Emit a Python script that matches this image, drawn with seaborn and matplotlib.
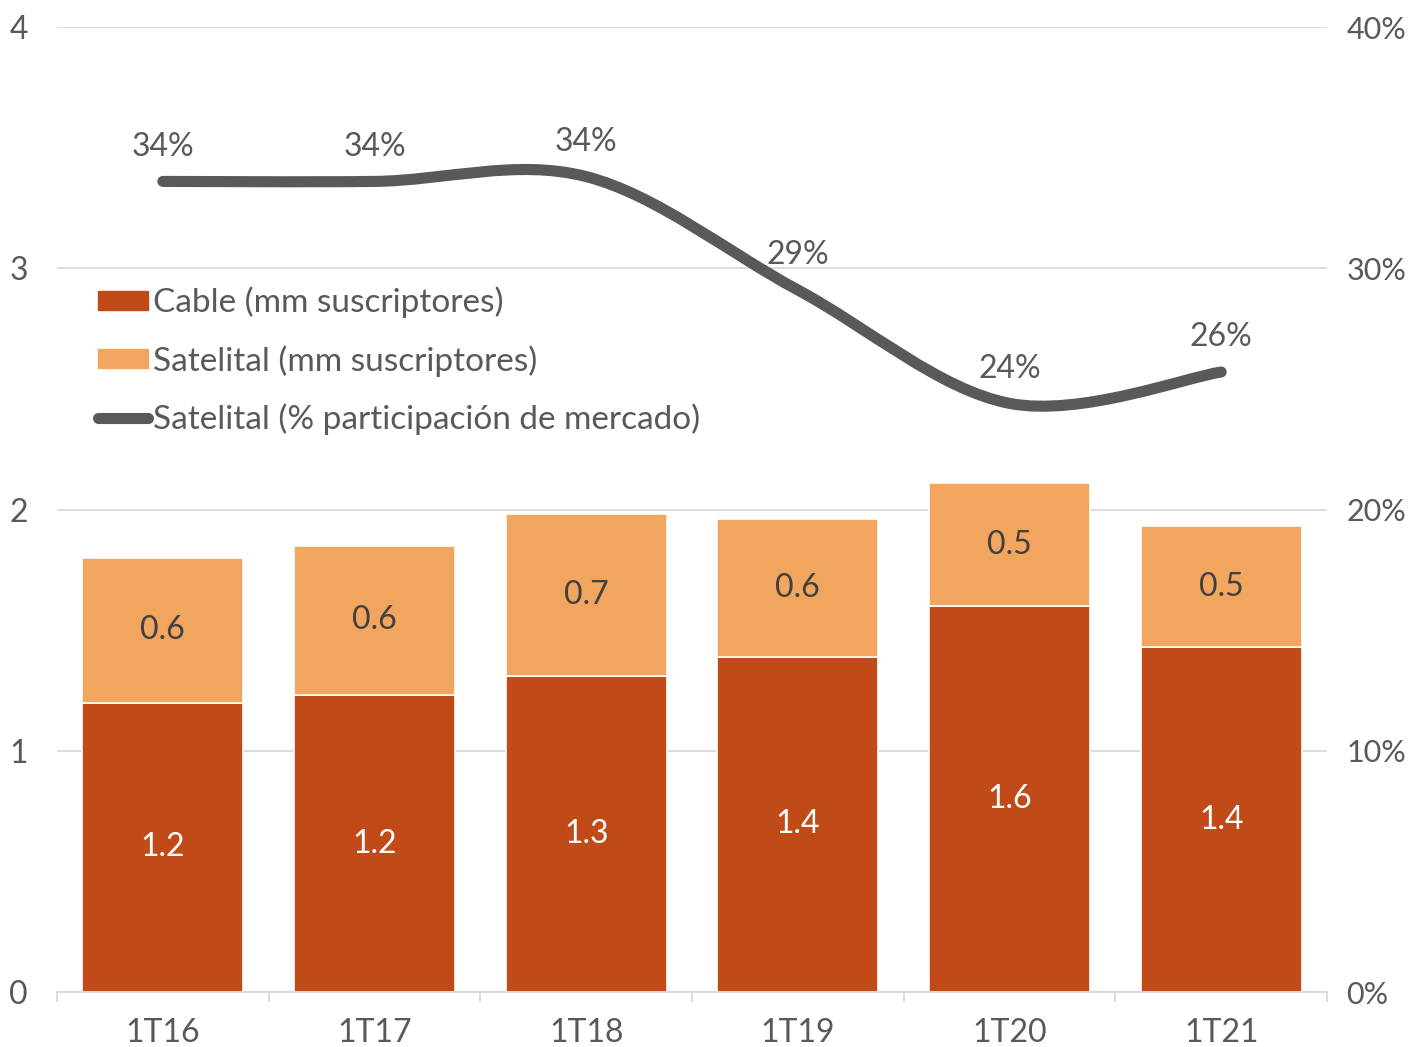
import matplotlib.pyplot as plt
import matplotlib.ticker as mticker
from matplotlib.path import Path
from matplotlib.patches import PathPatch, Patch
from matplotlib.lines import Line2D
import seaborn as sns
import numpy as np

periods = ["1T16", "1T17", "1T18", "1T19", "1T20", "1T21"]
cable = [1.20, 1.23, 1.31, 1.39, 1.60, 1.43]
satelital = [0.60, 0.62, 0.67, 0.57, 0.51, 0.50]
share = [0.336, 0.336, 0.338, 0.291, 0.244, 0.257]

c_cable = "#C04A18"
c_sat = "#F2A55E"
c_line = "#595959"
c_text = "#595959"

sns.set_theme(style="white")
plt.rcParams["font.family"] = ["Lato", "DejaVu Sans"]

fig, ax = plt.subplots(figsize=(14.11, 10.47), dpi=100)
fig.subplots_adjust(left=0.0404, right=0.9405, top=0.9742, bottom=0.0525)

sns.barplot(x=periods, y=cable, color=c_cable, width=0.76, saturation=1,
            edgecolor="white", linewidth=1.2, ax=ax, zorder=2)
sns.barplot(x=periods, y=satelital, bottom=cable, color=c_sat, width=0.76,
            saturation=1, edgecolor="white", linewidth=1.2, ax=ax, zorder=2)

ax.set_ylim(0, 4)
ax.set_xlim(-0.5, 5.5)
ax.set_yticks([0, 1, 2, 3, 4])
ax.yaxis.grid(True, color="#D9D9D9", linewidth=1.3)
ax.set_axisbelow(True)
for s in ["top", "right", "left"]:
    ax.spines[s].set_visible(False)
ax.spines["bottom"].set_color("#D9D9D9")
ax.spines["bottom"].set_linewidth(1.3)
ax.set_xticks(np.arange(-0.5, 6, 1), minor=True)
ax.tick_params(axis="x", which="minor", length=7, width=1.3, color="#D9D9D9", bottom=True)
ax.tick_params(axis="x", which="major", length=0, pad=19, labelsize=23, labelcolor=c_text)
ax.tick_params(axis="y", length=0, pad=21, labelsize=23, labelcolor=c_text)

# data labels on bars
for i in range(len(periods)):
    ax.text(i, cable[i] / 2, f"{cable[i]:.1f}", ha="center", va="center",
            color="white", fontsize=23, zorder=3)
    ax.text(i, cable[i] + satelital[i] / 2, f"{satelital[i]:.1f}", ha="center",
            va="center", color="#404040", fontsize=23, zorder=3)

# share line on right axis, smoothed
ax2 = ax.twinx()
ax2.set_ylim(0, 0.40)
ax2.set_yticks([0, 0.1, 0.2, 0.3, 0.4])
ax2.yaxis.set_major_formatter(mticker.PercentFormatter(1.0, decimals=0))
ax2.tick_params(axis="y", length=0, pad=14, labelsize=22, labelcolor=c_text)
ax2.grid(False)
for s in ax2.spines.values():
    s.set_visible(False)

xs = np.arange(len(share), dtype=float)
ys = np.array(share)
pts = np.column_stack([xs, ys])
ext = np.vstack([pts[0], pts, pts[-1]])
verts = [tuple(pts[0])]
codes = [Path.MOVETO]
for k in range(len(pts) - 1):
    p0, p1, p2, p3 = ext[k], ext[k + 1], ext[k + 2], ext[k + 3]
    c1 = p1 + (p2 - p0) / 6
    c2 = p2 - (p3 - p1) / 6
    verts += [tuple(c1), tuple(c2), tuple(p2)]
    codes += [Path.CURVE4] * 3
ax2.add_patch(PathPatch(Path(verts, codes), facecolor="none", edgecolor=c_line,
                        linewidth=8, capstyle="round", zorder=4))

for i, v in enumerate(share):
    ax2.annotate(f"{v * 100:.0f}%", (i, v), xytext=(0, 25), textcoords="offset points",
                 ha="center", va="center", fontsize=23, color=c_text)

handles = [Patch(color=c_cable), Patch(color=c_sat),
           Line2D([], [], color=c_line, linewidth=8, solid_capstyle="round")]
labels = ["Cable (mm suscriptores)", "Satelital (mm suscriptores)",
          "Satelital (% participación de mercado)"]
ax2.legend(handles, labels, loc="upper left", bbox_to_anchor=(0.019, 0.748),
           frameon=False, fontsize=24, labelcolor=c_text, handlelength=1.5,
           handleheight=0.5, handletextpad=0.15, labelspacing=0.8, borderpad=0)

fig.savefig("out.png", dpi=100)
